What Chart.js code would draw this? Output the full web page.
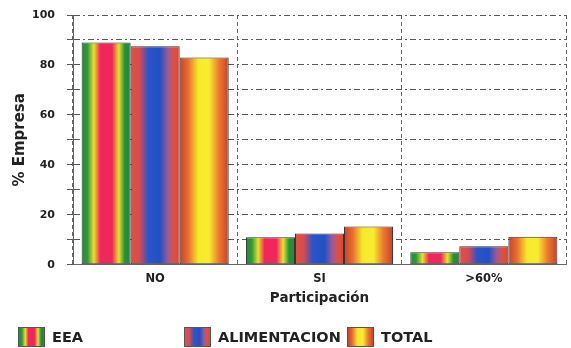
<!DOCTYPE html>
<html>
<head>
<meta charset="utf-8">
<script src="https://cdn.jsdelivr.net/npm/chart.js@4/dist/chart.umd.min.js"></script>
<style>
  html,body{margin:0;padding:0;background:#fff;}
  #wrap{position:relative;width:571px;height:348px;overflow:hidden;}
  canvas{position:absolute;left:0;top:0;}
  .leg{position:absolute;top:327px;height:20px;display:flex;align-items:center;font-family:"DejaVu Sans",sans-serif;font-weight:bold;font-size:14.5px;color:#222;}
  .sw{width:27px;height:20px;margin-right:7px;box-sizing:border-box;border:1px solid #555;}
</style>
</head>
<body>
<div id="wrap">
  <canvas id="c" width="571" height="348"></canvas>
  <div class="leg" style="left:18px"><div class="sw" id="sw0"></div>EEA</div>
  <div class="leg" style="left:184px"><div class="sw" id="sw1"></div>ALIMENTACION</div>
  <div class="leg" style="left:347px"><div class="sw" id="sw2"></div>TOTAL</div>
</div>
<script>
const categories = ['NO', 'SI', '>60%'];
const seriesNames = ['EEA', 'ALIMENTACION', 'TOTAL'];
const eea = [89, 11, 5];
const alimentacion = [87.5, 12.5, 7.4];
const total = [83, 15.3, 11.2];
const yTicks = [0, 20, 40, 60, 80, 100];

const STOPS = [
  [[0,'#1f8a3c'],[0.12,'#2f9a3a'],[0.25,'#e8e22a'],[0.38,'#f0265c'],[0.62,'#f0265c'],[0.76,'#e8e22a'],[0.88,'#23903c'],[1,'#1f8a3c']],
  [[0,'#e0533e'],[0.18,'#d84a52'],[0.36,'#2a55c8'],[0.6,'#2150c4'],[0.76,'#9a5a9a'],[0.88,'#e0503c'],[1,'#d84838']],
  [[0,'#c8402e'],[0.18,'#e8702e'],[0.38,'#f5ea2a'],[0.6,'#f8ec30'],[0.8,'#ea7a2e'],[1,'#cc3e2e']]
];
STOPS.forEach((s,i)=>{
  document.getElementById('sw'+i).style.background =
    'linear-gradient(to right,' + s.map(([o,c])=>c+' '+(o*100)+'%').join(',') + ')';
});

const gradientPlugin = {
  id: 'gradBars',
  beforeDatasetsDraw(chart) {
    const ctx = chart.ctx;
    chart.data.datasets.forEach((ds, di) => {
      const meta = chart.getDatasetMeta(di);
      meta.data.forEach(el => {
        const {x, width} = el.getProps(['x', 'width'], true);
        const g = ctx.createLinearGradient(x - width/2, 0, x + width/2, 0);
        STOPS[di].forEach(([o, c]) => g.addColorStop(o, c));
        el.options = Object.assign({}, el.options, {backgroundColor: g});
      });
    });
  }
};

const font = {family: '"DejaVu Sans", sans-serif', weight: 'bold'};

new Chart(document.getElementById('c'), {
  type: 'bar',
  data: {
    labels: categories,
    datasets: [
      {label: seriesNames[0], data: eea},
      {label: seriesNames[1], data: alimentacion},
      {label: seriesNames[2], data: total}
    ].map(d => Object.assign(d, {borderColor: '#333', borderWidth: 1, borderSkipped: false,
       categoryPercentage: 0.895, barPercentage: 1.0}))
  },
  options: {
    responsive: false,
    animation: false,
    layout: {padding: {left: 11, right: 5, top: 15, bottom: 43}},
    plugins: {legend: {display: false}, tooltip: {enabled: false}},
    scales: {
      x: {
        offset: true,
        grid: {offset: true, color: '#666', lineWidth: 1, drawTicks: false},
        border: {display: true, color: '#666', dash: [4, 3]},
        ticks: {color: '#222', font: Object.assign({size: 11.5}, font), padding: 7},
        title: {display: true, text: 'Participación', color: '#222',
                font: Object.assign({size: 13.5, lineHeight: 1.0}, font), padding: {top: -1, bottom: 0}}
      },
      y: {
        min: 0, max: 100,
        afterFit: (scale) => { scale.width = 62; scale.paddingTop = 0; scale.paddingBottom = 0; },
        grid: {color: '#555', lineWidth: 1, tickLength: 6},
        border: {display: true, color: '#666', dash: [6, 3, 2, 3]},
        ticks: {
          stepSize: 10,
          color: '#222',
          font: Object.assign({size: 11}, font),
          padding: 12,
          callback: v => yTicks.includes(v) ? String(v) : ''
        },
        title: {display: true, text: '% Empresa', color: '#222',
                font: Object.assign({size: 15}, font), padding: {top: 0, bottom: 4}}
      }
    }
  },
  plugins: [gradientPlugin]
});
</script>
</body>
</html>
